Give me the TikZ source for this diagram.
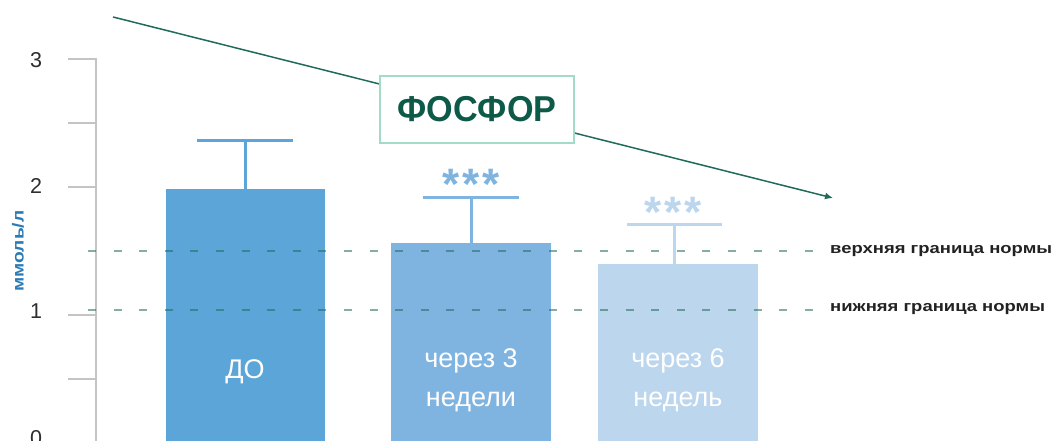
\documentclass[tikz,border=0pt]{standalone}
\usepackage{fontspec}
\setmainfont{Liberation Sans}
\usetikzlibrary{arrows.meta}
\definecolor{barA}{HTML}{5BA5D9}
\definecolor{barB}{HTML}{7FB4E1}
\definecolor{barC}{HTML}{BCD6EE}
\definecolor{lineteal}{HTML}{1F6B5C}
\definecolor{titlegreen}{HTML}{0E5A48}
\definecolor{boxgreen}{HTML}{A3DCC6}
\definecolor{axisgray}{HTML}{C4C4C4}
\definecolor{numgray}{HTML}{2E2E2E}
\definecolor{unitblue}{HTML}{2B7BB5}
\definecolor{labdark}{HTML}{222222}
\tikzset{
  axisline/.style={axisgray, line width=1.3},
  tickline/.style={axisgray, line width=1.6},
  numlabel/.style={text=numgray, font=\fontsize{21.5}{24}\selectfont, inner sep=0},
  errA/.style={barA, line width=3},
  errB/.style={barB, line width=3},
  errC/.style={barC, line width=3},
  barlabel/.style={text=white, font=\fontsize{27}{39}\selectfont, align=center, inner sep=0},
  stars/.style={font=\bfseries\fontsize{44}{44}\selectfont, inner sep=0, anchor=base},
  normline/.style={lineteal, opacity=0.55, line width=2.4, dash pattern=on 8 off 17.6},
  normlabel/.style={text=labdark, font=\bfseries\fontsize{15}{17}\selectfont, anchor=west, inner sep=0},
  titlebox/.style={draw=boxgreen, line width=2.5, fill=white, minimum width=194, minimum height=67, inner sep=0,
     text=titlegreen, font=\bfseries\fontsize{36}{40}\selectfont},
  trend/.style={lineteal, line width=1.5, -{Latex[length=8,width=7]}}
}
\begin{document}
\begin{tikzpicture}[x=1pt,y=-1pt]
\useasboundingbox (0,0) rectangle (1056,441);
\clip (0,0) rectangle (1056,441);
\fill[white] (0,0) rectangle (1056,441);

% axis
\draw[axisline] (96,58) -- (96,445);
\foreach \yy in {59,123,187,315,379} \draw[tickline] (68,\yy) -- (96,\yy);
\node[numlabel] (n3) at (36,60) {3};
\node[numlabel] (n2) at (36,186) {2};
\node[numlabel] (n1) at (36,311) {1};
\node[numlabel] (n0) at (36,438) {0};
\node[rotate=90, text=unitblue, font=\bfseries\fontsize{16}{18}\selectfont, inner sep=0] (unit) at (18,251) {\scalebox{1.2}[1]{ммоль/л}};

% trend arrow
\coordinate (tstart) at (113,17);
\coordinate (tend) at (833,198);
\draw[trend] (tstart) -- (tend);
\node[titlebox] (title) at (477,109.5) {\scalebox{0.95}[1]{ФОСФОР}};

% bars
\fill[barA] (166,189) rectangle (325,445);
\fill[barB] (391,243) rectangle (551,445);
\fill[barC] (598,264) rectangle (758,445);

% error bars
\draw[errA] (245,189) -- (245,140) (197,140) -- (293,140);
\draw[errB] (471,243) -- (471,197) (423,197) -- (519,197);
\draw[errC] (674,264) -- (674,224) (627,224) -- (722,224);

% stars
\node[stars, text=barB] (starsB) at (471,199) {*\hspace{3pt}*\hspace{3pt}*};
\node[stars, text=barC] (starsC) at (673,227) {*\hspace{3pt}*\hspace{3pt}*};

% bar labels
\node[barlabel] (lA) at (245,372) {ДО};
\node[barlabel] (lB) at (471,380) {через 3\\недели};
\node[barlabel] (lC) at (678,380) {через 6\\недель};

% norm lines
\draw[normline] (88,251) -- (820,251);
\draw[normline] (88,310) -- (820,310);
\node[normlabel] (upper) at (830,251) {\scalebox{1.23}[1]{верхняя граница нормы}};
\node[normlabel] (lower) at (830,309) {\scalebox{1.23}[1]{нижняя граница нормы}};
\end{tikzpicture}
\end{document}
